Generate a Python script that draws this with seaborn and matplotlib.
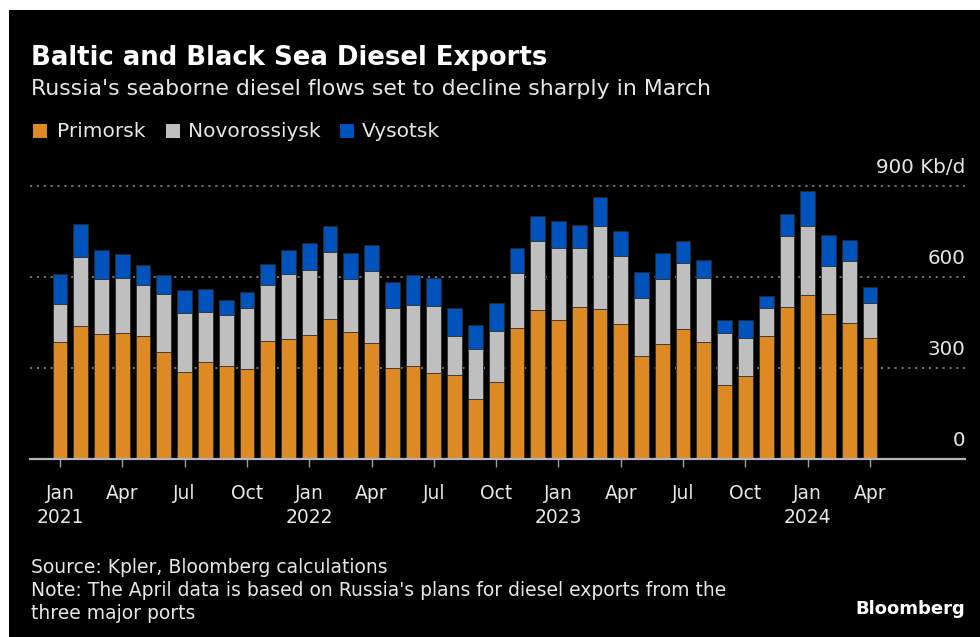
import matplotlib
matplotlib.use("Agg")
import matplotlib.pyplot as plt
from matplotlib.patches import Rectangle
import numpy as np
import pandas as pd
import seaborn as sns

# Monthly seaborne diesel exports by port, Kb/d
months = pd.date_range("2021-01-01", periods=40, freq="MS")
primorsk = [386, 438, 412, 414, 405, 352, 287, 319, 308, 296,
            388, 394, 410, 460, 418, 381, 301, 308, 284, 277,
            197, 253, 433, 491, 458, 500, 495, 446, 341, 378,
            427, 387, 244, 272, 405, 501, 542, 478, 447, 398]
novorossiysk = [125, 227, 181, 183, 168, 192, 194, 166, 166, 203,
                185, 215, 212, 222, 174, 239, 197, 199, 221, 128,
                164, 170, 180, 229, 237, 197, 272, 222, 191, 215,
                220, 211, 170, 127, 93, 234, 225, 158, 206, 117]
vysotsk = [98, 110, 96, 80, 66, 63, 75, 77, 49, 51,
           71, 81, 89, 87, 88, 84, 84, 99, 93, 92,
           80, 90, 83, 82, 88, 76, 96, 83, 83, 86,
           72, 58, 45, 60, 41, 73, 115, 104, 69, 53]
series_names = ["Primorsk", "Novorossiysk", "Vysotsk"]
y_ticks = [0, 300, 600, 900]
y_tick_labels = ["0", "300", "600", "900 Kb/d"]

COLORS = {"Primorsk": "#DD8A25", "Novorossiysk": "#BFBFBF", "Vysotsk": "#0052BD"}
BG = "#000000"
FG = "#E6E6E6"

sns.set_theme(style="dark")
plt.rcParams["font.family"] = ["DejaVu Sans"]

W, H = 980, 637
fig = plt.figure(figsize=(W / 100, H / 100), dpi=100, facecolor="white")

def fx(px):
    return px / W

def fy(py):
    return 1 - py / H

# dark panel behind everything
fig.patches.append(Rectangle((fx(9), 0), 1 - fx(9), fy(10), transform=fig.transFigure,
                             facecolor=BG, edgecolor="none", zorder=-10))

# axes geometry
ax_left, ax_right = 30, 965
ax_bottom = 459
px_per_unit = (459 - 186) / 900.0
ymax = 950
ax_top = ax_bottom - ymax * px_per_unit
ax = fig.add_axes([fx(ax_left), fy(ax_bottom), fx(ax_right - ax_left), (ax_bottom - ax_top) / H])
ax.set_facecolor(BG)
ax.patch.set_alpha(0.0)

labels = [m.strftime("%Y-%m") for m in months]
df = pd.DataFrame({
    "month": labels,
    "Primorsk": primorsk,
    "Novorossiysk": novorossiysk,
    "Vysotsk": vysotsk,
})
df["top_nov"] = df["Primorsk"] + df["Novorossiysk"]
df["top_all"] = df["top_nov"] + df["Vysotsk"]

bar_kw = dict(order=labels, width=0.71, edgecolor="#2a2a2a", linewidth=0.6, ax=ax,
              saturation=1, zorder=3)
sns.barplot(data=df, x="month", y="top_all", color=COLORS["Vysotsk"], **bar_kw)
sns.barplot(data=df, x="month", y="top_nov", color=COLORS["Novorossiysk"], **bar_kw)
sns.barplot(data=df, x="month", y="Primorsk", color=COLORS["Primorsk"], **bar_kw)

px_per_month = 20.77
x0 = -(60 - ax_left) / px_per_month
x1 = (ax_right - 60) / px_per_month
ax.set_xlim(x0, x1)
ax.set_ylim(0, ymax)
ax.set_xlabel("")
ax.set_ylabel("")

# dotted gridlines
for v in y_ticks[1:]:
    ax.axhline(v, color="#7a7a7a", lw=1.3, linestyle=(0, (1.2, 2.6)), zorder=1)

# value labels sitting above the gridlines on the right
for v, t in zip(y_ticks, y_tick_labels):
    ax.annotate(t, xy=(1.0, v), xycoords=("axes fraction", "data"),
                xytext=(0, 9.5), textcoords="offset points",
                ha="right", va="baseline", color=FG, fontsize=14.3)
ax.set_yticks([])

# x ticks every quarter
tick_idx = list(range(0, 40, 3))
tick_text = []
for i in tick_idx:
    m = months[i]
    lab = m.strftime("%b")
    if m.month == 1:
        lab += "\n" + str(m.year)
    tick_text.append(lab)
ax.set_xticks(tick_idx)
ax.set_xticklabels(tick_text, color=FG, fontsize=13.5, linespacing=1.35, va="top")
ax.tick_params(axis="x", length=6, width=1, color="#a0a0a0", pad=12, bottom=True)

for s in ["top", "right", "left"]:
    ax.spines[s].set_visible(False)
ax.spines["bottom"].set_color("#b5b5b5")
ax.spines["bottom"].set_linewidth(1.6)
ax.spines["bottom"].set_zorder(4)
ax.grid(False)

# title block
fig.text(fx(31), fy(65), "Baltic and Black Sea Diesel Exports", color="white",
         fontsize=18.7, fontweight="bold", va="baseline", ha="left")
fig.text(fx(31), fy(95), "Russia's seaborne diesel flows set to decline sharply in March",
         color=FG, fontsize=15.8, va="baseline", ha="left")

# legend
legend_items = [(33, 57, "Primorsk"), (166, 188, "Novorossiysk"), (340, 362, "Vysotsk")]
for sq_x, tx, name in legend_items:
    fig.patches.append(Rectangle((fx(sq_x), fy(138)), fx(14), 14 / H, transform=fig.transFigure,
                                 facecolor=COLORS[name], edgecolor="none", zorder=2))
    fig.text(fx(tx), fy(137), name, color=FG, fontsize=14.5, va="baseline", ha="left")

# footer
fig.text(fx(31), fy(573), "Source: Kpler, Bloomberg calculations", color=FG,
         fontsize=13.5, va="baseline", ha="left")
fig.text(fx(31), fy(596),
         "Note: The April data is based on Russia's plans for diesel exports from the",
         color=FG, fontsize=13.5, va="baseline", ha="left")
fig.text(fx(31), fy(619), "three major ports", color=FG, fontsize=13.5,
         va="baseline", ha="left")
fig.text(fx(965), fy(614), "Bloomberg", color="white", fontsize=13, fontweight="bold",
         va="baseline", ha="right")

fig.savefig("out.png", dpi=100, facecolor=fig.get_facecolor())
